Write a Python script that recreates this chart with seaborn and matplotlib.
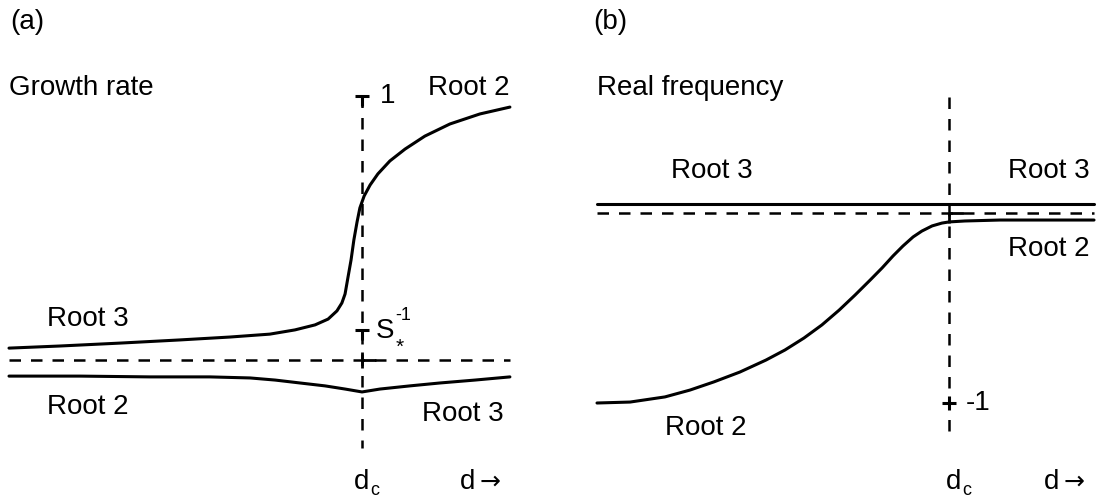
import numpy as np
import pandas as pd
import matplotlib
matplotlib.use("Agg")
import matplotlib.pyplot as plt
import seaborn as sns

# ---------------------------------------------------------------
# Panel (a): growth rate vs d   (d scaled so that d_c = 1)
# ---------------------------------------------------------------
d_c = 1.0
d_max_a = 1.419
one_a = 1.0          # growth-rate level marked "1"
s_inv = 0.114        # growth-rate level marked S_*^-1

# Root 3 (left) turning into Root 2 (right) - upper branch
d_upper = [0.000, 0.144, 0.314, 0.484, 0.626, 0.739, 0.810, 0.867, 0.904,
           0.929, 0.943, 0.952, 0.960, 0.969, 0.977, 0.986, 0.994, 1.006,
           1.023, 1.045, 1.079, 1.122, 1.178, 1.249, 1.334, 1.419]
g_upper = [0.045, 0.053, 0.064, 0.076, 0.087, 0.098, 0.114, 0.133, 0.155,
           0.186, 0.216, 0.250, 0.311, 0.379, 0.455, 0.523, 0.576, 0.621,
           0.663, 0.705, 0.754, 0.799, 0.848, 0.894, 0.932, 0.958]

# Root 2 (left) turning into Root 3 (right) - lower branch
d_lower = [0.000, 0.201, 0.399, 0.569, 0.683, 0.754, 0.824, 0.895, 0.952,
           1.000, 1.051, 1.136, 1.221, 1.320, 1.419]
g_lower = [-0.061, -0.061, -0.064, -0.064, -0.068, -0.076, -0.087, -0.098,
           -0.110, -0.121, -0.110, -0.098, -0.087, -0.076, -0.064]

# ---------------------------------------------------------------
# Panel (b): real frequency vs d
# ---------------------------------------------------------------
d_max_b = 1.412
root3_freq = 0.047   # Root 3, constant on both sides
minus_one = -1.0

d_root2_b = [0.000, 0.094, 0.193, 0.264, 0.332, 0.406, 0.480, 0.534, 0.588,
             0.639, 0.688, 0.733, 0.776, 0.810, 0.841, 0.869, 0.898, 0.923,
             0.952, 0.980, 1.000, 1.045, 1.145, 1.287, 1.412]
f_root2_b = [-1.000, -0.995, -0.968, -0.932, -0.889, -0.837, -0.774, -0.721,
             -0.658, -0.589, -0.511, -0.432, -0.353, -0.289, -0.226, -0.174,
             -0.126, -0.095, -0.068, -0.053, -0.047, -0.042, -0.037, -0.037,
             -0.037]

# ---------------------------------------------------------------
sns.set_theme(style="white")
plt.rcParams["font.family"] = ["Liberation Sans", "DejaVu Sans"]

W, H = 1106, 498
fig = plt.figure(figsize=(W / 100, H / 100), dpi=100)

ax_a = fig.add_axes([0.0, 0.0, 553 / W, 1.0])
ax_b = fig.add_axes([553 / W, 0.0, 553 / W, 1.0])
for ax in (ax_a, ax_b):
    ax.set_axis_off()

# pixel-per-unit scales chosen so both panels sit where they belong
ax_a.set_xlim(-9 / 353, (553 - 9) / 353)
ax_a.set_ylim((360 - 498) / 264, 360 / 264)
ax_b.set_xlim((553 - 597) / 352, (1106 - 597) / 352)
ax_b.set_ylim((213 - 498) / 190, 213 / 190)

LW = 2.2
DASH = (0, (4.6, 4.0))
DLW = 1.8

# ---- panel (a) curves ----
sns.lineplot(x=d_upper, y=g_upper, ax=ax_a, color="black", lw=LW,
             sort=False, estimator=None)
sns.lineplot(x=d_lower, y=g_lower, ax=ax_a, color="black", lw=LW,
             sort=False, estimator=None)
sns.lineplot(x=[0.0, d_max_a], y=[0.0, 0.0], ax=ax_a, color="black",
             lw=DLW, linestyle=DASH, estimator=None)
sns.lineplot(x=[d_c, d_c], y=[one_a, -0.333], ax=ax_a, color="black",
             lw=DLW, linestyle=DASH, estimator=None, sort=False)
# tick marks on the d = d_c line
ax_a.plot([d_c], [one_a], marker="_", ms=10, mew=2.2, color="black")
ax_a.plot([d_c], [one_a], marker=3, ms=7, mew=2.2, color="black")
ax_a.plot([d_c], [s_inv], marker="_", ms=10, mew=2.2, color="black")
ax_a.plot([d_c], [s_inv], marker=3, ms=7, mew=2.2, color="black")
ax_a.plot([d_c], [0.0], marker=1, ms=10, mew=2.0, color="black")
ax_a.plot([d_c], [0.0], marker="|", ms=12, mew=2.0, color="black")

# ---- panel (b) curves ----
sns.lineplot(x=[0.0, d_max_b], y=[root3_freq, root3_freq], ax=ax_b,
             color="black", lw=LW, estimator=None)
sns.lineplot(x=[0.0, d_max_b], y=[0.0, 0.0], ax=ax_b, color="black",
             lw=DLW, linestyle=DASH, estimator=None)
sns.lineplot(x=d_root2_b, y=f_root2_b, ax=ax_b, color="black", lw=LW,
             sort=False, estimator=None)
sns.lineplot(x=[d_c, d_c], y=[0.61, -1.19], ax=ax_b, color="black",
             lw=DLW, linestyle=DASH, estimator=None, sort=False)
ax_b.plot([d_c], [minus_one], marker="_", ms=10, mew=2.2, color="black")
ax_b.plot([d_c], [minus_one], marker="|", ms=10, mew=2.2, color="black")
ax_b.plot([d_c], [0.0], marker=1, ms=10, mew=2.0, color="black")
ax_b.plot([d_c], [0.0], marker=3, ms=7, mew=2.0, color="black")

# ---- text ----
FS = 20
SUB = 13


def label(x, y, s, size=FS, va="baseline", ha="left", family=None):
    kw = {}
    if family is not None:
        kw["family"] = family
    fig.text(x / W, 1 - y / H, s, fontsize=size, va=va, ha=ha,
             color="black", **kw)


label(10, 29, "(a)")
label(593, 29, "(b)")
label(9, 95, "Growth rate")
label(597, 95, "Real frequency")

# panel (a)
label(380, 103, "1")
label(428, 95, "Root 2")
label(47, 326, "Root 3")
label(376, 338, "S")
label(395, 320, "-1", size=SUB)
label(396, 353, "*", size=SUB + 2)
label(47, 414, "Root 2")
label(422, 421, "Root 3")
label(354, 489, "d")
label(370, 495, "c", size=SUB)
label(460, 489, "d")
label(480, 489, "\u2192", size=18, family=["DejaVu Sans"])

# panel (b)
label(671, 178, "Root 3")
label(1008, 178, "Root 3")
label(1008, 256, "Root 2")
label(665, 435, "Root 2")
label(966, 403, "-1", va="center")
label(946, 489, "d")
label(962, 495, "c", size=SUB)
label(1044, 489, "d")
label(1064, 489, "\u2192", size=18, family=["DejaVu Sans"])

fig.savefig("out.png", dpi=100, facecolor="white")
